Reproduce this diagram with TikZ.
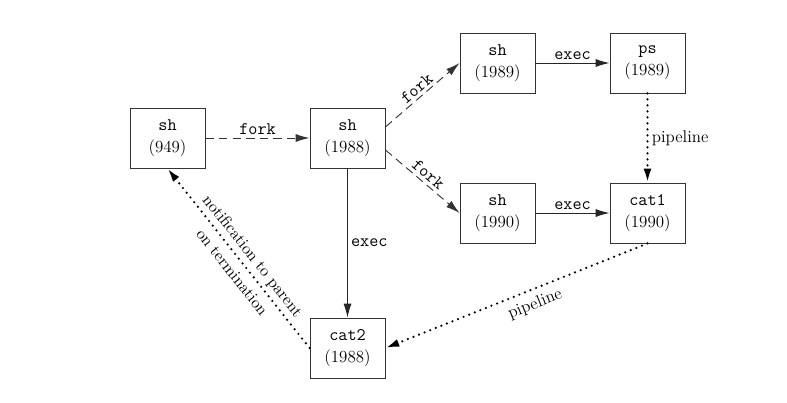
\documentclass[tikz,border=0pt]{standalone}
\usetikzlibrary{arrows.meta}
\begin{document}
\begin{tikzpicture}[x=0.65pt,y=-0.65pt,
  proc/.style={draw=black!80,line width=0.6pt,minimum width=48.75pt,minimum height=39pt,inner sep=0pt,align=center,font=\fontsize{11}{14}\selectfont},
  tip/.style={-{Latex[length=9pt,width=5.2pt]}},
  solidarr/.style={tip,draw=black!85,line width=0.6pt},
  dasharr/.style={tip,draw=black!80,line width=0.6pt,dash pattern=on 5.5pt off 3.3pt},
  dotarr/.style={tip,draw=black,line width=1.6pt,line cap=round,dash pattern=on 0pt off 3.9pt},
  tlab/.style={font=\ttfamily\fontsize{11.5}{12}\selectfont,inner sep=2pt},
  slab/.style={font=\fontsize{11}{12}\selectfont,inner sep=2pt}]
\useasboundingbox (0,0) rectangle (787,402);
\node[proc] (a) at (167.5,138) {\texttt{\fontsize{11.5}{12}\selectfont sh}\\(949)};
\node[proc] (b) at (347.5,138) {\texttt{\fontsize{11.5}{12}\selectfont sh}\\(1988)};
\node[proc] (c) at (497.5,63) {\texttt{\fontsize{11.5}{12}\selectfont sh}\\(1989)};
\node[proc] (d) at (647.5,63) {\texttt{\fontsize{11.5}{12}\selectfont ps}\\(1989)};
\node[proc] (e) at (497.5,213) {\texttt{\fontsize{11.5}{12}\selectfont sh}\\(1990)};
\node[proc] (f) at (647.5,213) {\texttt{\fontsize{11.5}{12}\selectfont cat1}\\(1990)};
\node[proc] (g) at (347.5,348) {\texttt{\fontsize{11.5}{12}\selectfont cat2}\\(1988)};
\draw[dasharr] (a) -- node[tlab,above] {fork} (b);
\draw[dasharr] ([yshift=7.2pt]b.east) -- node[tlab,sloped,above] {fork} (c.west);
\draw[dasharr] ([yshift=-7.8pt]b.east) -- node[tlab,sloped,above] {fork} (e.west);
\draw[solidarr] (c) -- node[tlab,above] {exec} (d);
\draw[solidarr] (e) -- node[tlab,above] {exec} (f);
\draw[solidarr] (b) -- node[tlab,right,pos=0.5] {exec} (g);
\draw[dotarr] (d) -- node[slab,right] {pipeline} (f);
\draw[dotarr] (f.south) -- node[slab,sloped,below,pos=0.45,yshift=-2pt] {pipeline} (g.east);
\draw[dotarr] (g.west) -- node[sloped,align=center,pos=0.47,inner sep=0pt,font=\fontsize{10.5}{17}\selectfont] {notification to parent\\on termination} (a.south);
\end{tikzpicture}
\end{document}
